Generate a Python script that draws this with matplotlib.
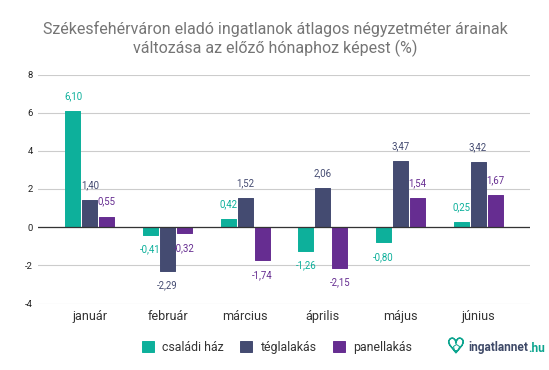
#! /usr/bin/env python3
"""
Monthly change of average flat and house prices per square metre
"""
from matplotlib import pyplot as plt
from matplotlib import patheffects as pe
from matplotlib.lines import Line2D

months = ['január', 'február', 'március', 'április', 'május', 'június']
csaladi = [6.10, -0.41, 0.42, -1.26, -0.80, 0.25]
tegla = [1.40, -2.29, 1.52, 2.06, 3.47, 3.42]
panel = [0.55, -0.32, -1.74, -2.15, 1.54, 1.67]
names = ['családi ház', 'téglalakás', 'panellakás']
colors = ['#0DB09B', '#444B71', '#662D91']
yticks = [-4, -2, 0, 2, 4, 6, 8]
title = 'Székesfehérváron eladó ingatlanok átlagos négyzetméter árainak\nváltozása az előző hónaphoz képest (%)'

plt.rcParams['font.family'] = ['Roboto', 'DejaVu Sans']
plt.rcParams['axes.unicode_minus'] = False

W, H = 549, 370
fig = plt.figure(figsize=(W / 100, H / 100), dpi=100)
ax = fig.add_axes([38 / W, 1 - 303.5 / H, 492 / W, 229 / H])

step = 17 / 77.6
for i, (vals, name, col) in enumerate(zip([csaladi, tegla, panel], names, colors)):
    xs = [k + (i - 1) * step for k in range(len(months))]
    ax.bar(xs, vals, width=15 / 77.6, color=col, edgecolor=col, linewidth=0.7,
           joinstyle='round', label=name, zorder=2)
    for x, v in zip(xs, vals):
        off = 10.8 if v >= 0 else -10.4
        ax.annotate(f'{v:.2f}'.replace('.', ','), (x, v), xytext=(0, off),
                    textcoords='offset points', ha='center', va='center',
                    fontsize=6.9, color=col, zorder=4)

ax.set_xlim(-0.67, 5.67)
ax.set_ylim(-4, 8)
ax.set_yticks(yticks)
ax.set_xticks(range(len(months)))
ax.set_xticklabels(months, fontsize=9.1, color='#333333')
ax.tick_params(axis='x', length=0, pad=5)
ax.tick_params(axis='y', length=0, pad=3.5, labelsize=6.8, labelcolor='#222222')
ax.grid(axis='y', color='#CCCCCC', linewidth=0.8, zorder=0)
ax.axhline(0, color='#333333', linewidth=0.9, zorder=3)
ax.set_axisbelow(True)
for s in ax.spines.values():
    s.set_visible(False)

fig.text(275 / W, 1 - 39 / H, title, ha='center', va='center', fontsize=11.5,
         color='#757575', linespacing=1.25)

fig.legend(loc='center', bbox_to_anchor=(277 / W, 1 - 347.5 / H), ncol=3, frameon=False,
           fontsize=8.9, handlelength=0.97, handleheight=0.97, handletextpad=0.69,
           columnspacing=1.3, labelcolor='#333333', borderpad=0, borderaxespad=0)

# logo
fig.text(456 / W, 1 - 347 / H, '♡', ha='center', va='center', fontsize=15,
         color='#0DA58F', family='DejaVu Sans',
         path_effects=[pe.withStroke(linewidth=0.8, foreground='#0DA58F')])
fig.add_artist(Line2D([456 / W], [1 - 346.5 / H], marker='p', markersize=4.5, markerfacecolor='none',
                      markeredgecolor='#0DA58F', markeredgewidth=0.7, transform=fig.transFigure))
t = fig.text(468 / W, 1 - 348 / H, 'ingatlannet', ha='left', va='center', fontsize=8.6,
             color='#3F4A68', weight='bold')
fig.canvas.draw()
bb = t.get_window_extent()
fig.text(bb.x1 / W, 1 - 348 / H, '.hu', ha='left', va='center', fontsize=8.6,
         color='#0DA58F', weight='bold')

fig.savefig('out.png', dpi=100)
